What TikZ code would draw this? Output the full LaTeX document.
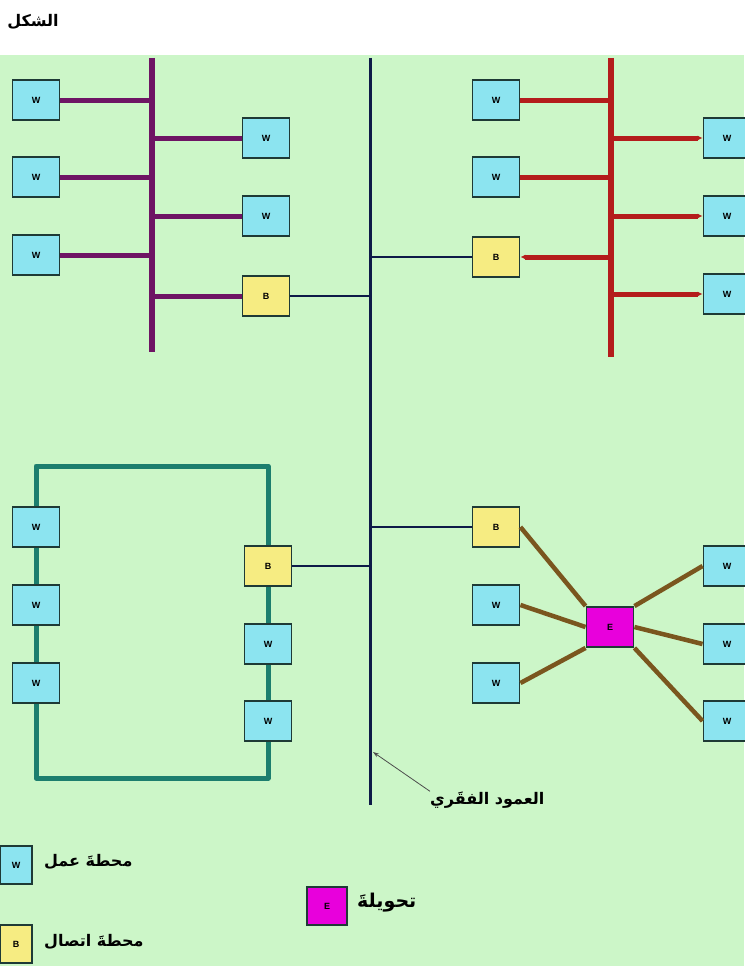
\documentclass[tikz,border=0pt]{standalone}
\usepackage{fontspec}
\setmainfont{Liberation Sans}
\newfontfamily\arabicfont[Script=Arabic]{DejaVu Sans}
\TeXXeTstate=1
\usetikzlibrary{arrows.meta}
\definecolor{bggreen}{RGB}{204,246,200}
\definecolor{wcyan}{RGB}{140,228,240}
\definecolor{byellow}{RGB}{246,236,130}
\definecolor{emag}{RGB}{232,0,220}
\definecolor{busp}{RGB}{110,20,100}
\definecolor{busr}{RGB}{180,28,28}
\definecolor{ringt}{RGB}{28,126,110}
\definecolor{starb}{RGB}{122,86,30}
\definecolor{navyb}{RGB}{14,26,72}
\definecolor{boxline}{RGB}{30,58,54}
\begin{document}
\begin{tikzpicture}[x=1pt,y=-1pt,
  station/.style={draw=boxline, line width=1.9pt, minimum width=47pt, minimum height=40pt, inner sep=0pt, font=\bfseries\fontsize{9}{10}\selectfont},
  wst/.style={station, fill=wcyan},
  bst/.style={station, fill=byellow},
  est/.style={station, fill=emag},
  legw/.style={station, minimum width=32pt, minimum height=38pt},
  pline/.style={busp, line width=5pt},
  rline/.style={busr, line width=5pt},
  tline/.style={ringt, line width=5pt},
  sline/.style={starb, line width=4.5pt},
  bbone/.style={navyb, line width=3pt},
  thinlink/.style={navyb, line width=1.3pt},
  thicklink/.style={navyb, line width=2.8pt},
  tip/.style={-{Latex[length=5pt,width=5pt]}},
  artext/.style={font=\arabicfont\bfseries\fontsize{16}{19}\selectfont, inner sep=0pt}
]
\useasboundingbox (0,0) rectangle (744,966);
\fill[white] (0,0) rectangle (744,55);
\fill[bggreen] (0,55) rectangle (744,966);

% title
\node[artext] (title) at (33,22) {\beginR الشكل\endR};

% backbone
\coordinate (bbt) at (370,58);
\coordinate (bbb) at (370,805);
\draw[bbone] (bbt) -- (bbb);

% ---------- top-left bus ----------
\coordinate (pt) at (152,58);
\coordinate (pb) at (152,352);
\draw[busp, line width=6pt] (pt) -- (pb);
\node[wst] (tlw1) at (36,100) {W};
\node[wst] (tlw2) at (36,177) {W};
\node[wst] (tlw3) at (36,255) {W};
\node[wst] (tlw4) at (266,138) {W};
\node[wst] (tlw5) at (266,216) {W};
\node[bst] (tlb)  at (266,296) {B};
\draw[pline] (tlw1.east) -- (tlw1.east -| pt);
\draw[pline] (tlw2.east) -- (tlw2.east -| pt);
\draw[pline] (tlw3.east) -- (tlw3.east -| pt);
\draw[pline] (tlw4.west -| pt) -- (tlw4.west);
\draw[pline] (tlw5.west -| pt) -- (tlw5.west);
\draw[pline] (tlb.west -| pt) -- (tlb.west);
\draw[thinlink] (tlb.east) -- (tlb.east -| bbt);

% ---------- top-right bus ----------
\coordinate (rt) at (611,58);
\coordinate (rb) at (611,357);
\draw[busr, line width=6pt] (rt) -- (rb);
\node[wst] (trw1) at (496,100) {W};
\node[wst] (trw2) at (496,177) {W};
\node[bst] (trb)  at (496,257) {B};
\node[wst] (trw3) at (727,138) {W};
\node[wst] (trw4) at (727,216) {W};
\node[wst] (trw5) at (727,294) {W};
\draw[rline] (trw1.east) -- (trw1.east -| rt);
\draw[rline] (trw2.east) -- (trw2.east -| rt);
\draw[rline, tip] (trb.east -| rt) -- (trb.east);
\draw[rline, tip] (trw3.west -| rt) -- (trw3.west);
\draw[rline, tip] (trw4.west -| rt) -- (trw4.west);
\draw[rline, tip] (trw5.west -| rt) -- (trw5.west);
\draw[thinlink] (trb.west) -- (trb.west -| bbt);

% ---------- bottom-left ring ----------
\coordinate (r1) at (36,466);
\coordinate (r2) at (268,466);
\coordinate (r3) at (268,778);
\coordinate (r4) at (36,778);
\node[wst] (blw1) at (36,527) {W};
\node[wst] (blw2) at (36,605) {W};
\node[wst] (blw3) at (36,683) {W};
\node[bst] (blb)  at (268,566) {B};
\node[wst] (blw4) at (268,644) {W};
\node[wst] (blw5) at (268,721) {W};
\draw[tline, line join=round] (blb.north) -- (r2) -- (r1) -- (blw1.north);
\draw[tline] (blw1.south) -- (blw2.north);
\draw[tline] (blw2.south) -- (blw3.north);
\draw[tline, line join=round] (blw3.south) -- (r4) -- (r3) -- (blw5.south);
\draw[tline] (blw5.north) -- (blw4.south);
\draw[tline] (blw4.north) -- (blb.south);
\draw[thicklink] (blb.east) -- (blb.east -| bbt);

% ---------- bottom-right star ----------
\node[bst] (brb)  at (496,527) {B};
\node[wst] (brw1) at (496,605) {W};
\node[wst] (brw2) at (496,683) {W};
\node[est] (sw)   at (610,627) {E};
\node[wst] (brw3) at (727,566) {W};
\node[wst] (brw4) at (727,644) {W};
\node[wst] (brw5) at (727,721) {W};
\draw[thicklink] (brb.west) -- (brb.west -| bbt);
\draw[sline] (sw.north west) -- (brb.east);
\draw[sline] (sw.west) -- (brw1.east);
\draw[sline] (sw.south west) -- (brw2.east);
\draw[sline] (sw.north east) -- (brw3.west);
\draw[sline] (sw.east) -- (brw4.west);
\draw[sline] (sw.south east) -- (brw5.west);

% backbone label
\node[artext, anchor=west] (bblabel) at (430,800) {\beginR العمود الفقَري\endR};
\coordinate (bbpoint) at (373,752);
\draw[black!70, line width=0.8pt, -{Stealth[length=6pt,width=4pt]}] (bblabel.north west) -- (bbpoint);

% ---------- legend ----------
\node[legw, fill=wcyan] (legW) at (16,865) {W};
\node[artext, anchor=west] (legWt) at (44,862) {\beginR محطةَ عمل\endR};
\node[legw, fill=byellow] (legB) at (16,944) {B};
\node[artext, anchor=west] (legBt) at (44,942) {\beginR محطةَ اتصال\endR};
\node[legw, fill=emag, minimum width=40pt] (legE) at (327,906) {E};
\node[artext, anchor=west, font=\arabicfont\bfseries\fontsize{19}{22}\selectfont] (legEt) at (357,903) {\beginR تحويلةَ\endR};
\end{tikzpicture}
\end{document}
